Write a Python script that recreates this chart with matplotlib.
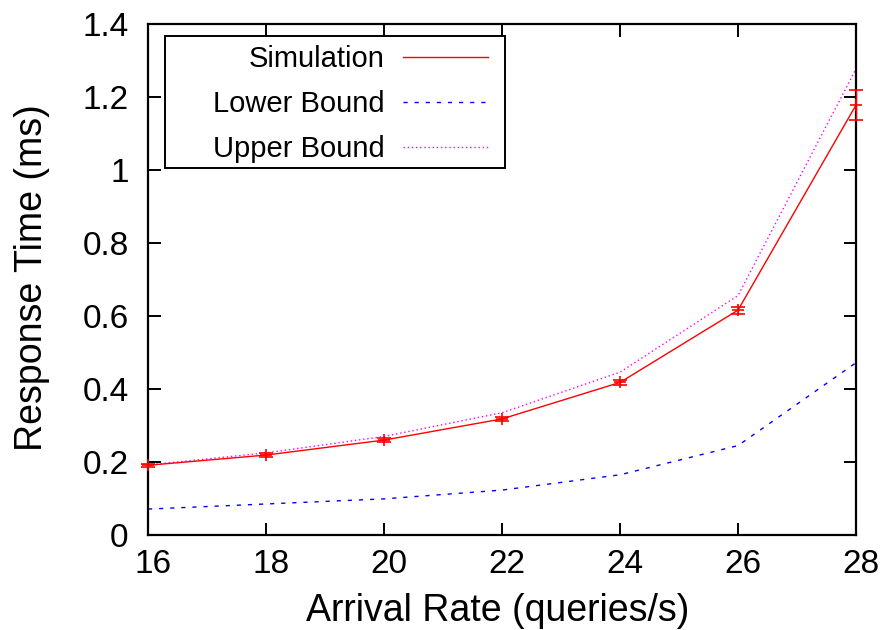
import numpy as np
import matplotlib
matplotlib.use('Agg')
import matplotlib.pyplot as plt
import matplotlib.transforms as mtransforms
from matplotlib.lines import Line2D
from matplotlib.patches import Rectangle

plt.rcParams['font.family'] = ['Liberation Sans', 'DejaVu Sans']

rate = [16, 18, 20, 22, 24, 26, 28]
sim = [0.191, 0.219, 0.260, 0.318, 0.418, 0.616, 1.178]
sim_err = [0.004, 0.005, 0.005, 0.006, 0.007, 0.010, 0.042]
lower = [0.071, 0.085, 0.099, 0.123, 0.165, 0.245, 0.472]
upper = [0.192, 0.225, 0.270, 0.335, 0.446, 0.656, 1.277]
labels = ['Simulation', 'Lower Bound', 'Upper Bound']

W, H = 886, 630
fig = plt.figure(figsize=(W / 100, H / 100), dpi=100)
ax = fig.add_axes([148 / W, 95 / H, 708 / W, 511 / H])

ax.errorbar(rate, sim, yerr=sim_err, color='red', lw=1.0, marker='+', ms=9,
            mew=1.2, capsize=5, elinewidth=1.0, capthick=1.2, clip_on=False, zorder=3)
ax.plot(rate, lower, color='blue', lw=1.0, ls=(0, (3, 5)))
ax.plot(rate, upper, color='magenta', lw=1.0, ls=(0, (1, 2)))

ax.set_xlim(16, 28)
ax.set_ylim(0, 1.4)
ax.set_xticks(rate)
ax.set_yticks([0, 0.2, 0.4, 0.6, 0.8, 1, 1.2, 1.4])
ax.set_yticklabels(['0', '0.2', '0.4', '0.6', '0.8', '1', '1.2', '1.4'])
ax.tick_params(direction='in', length=9, width=1.4, top=True, right=True,
               labelsize=24)
ax.tick_params(axis='x', pad=10)
ax.tick_params(axis='y', pad=14)
for s in ax.spines.values():
    s.set_linewidth(1.6)

# gnuplot puts x tick labels a bit right of the tick
off = mtransforms.ScaledTranslation(5 / 100, 0, fig.dpi_scale_trans)
for lab in ax.get_xticklabels():
    lab.set_transform(lab.get_transform() + off)

ax.set_xlabel('Arrival Rate (queries/s)', fontsize=27)
ax.xaxis.label.set_va('baseline')
ax.xaxis.set_label_coords((498 - 148) / 708, (535 - 621) / 511)
ax.set_ylabel('Response Time (ms)', fontsize=27)
ax.yaxis.label.set_va('center')
ax.yaxis.set_label_coords((32 - 148) / 708, (535 - 278) / 511)

handles = [Line2D([], [], color='red', lw=1.0),
           Line2D([], [], color='blue', lw=1.0, ls=(0, (3, 5))),
           Line2D([], [], color='magenta', lw=1.0, ls=(0, (1, 2)))]
leg = fig.legend(handles, labels, loc='center right',
                 bbox_to_anchor=(488 / W, 1 - 104 / H), bbox_transform=fig.transFigure,
                 markerfirst=False, fontsize=21, frameon=False, borderaxespad=0,
                 handlelength=2.9, borderpad=0, labelspacing=0.58, handletextpad=0.65)
for t in leg.get_texts():
    t.set_ha('right')
    t.set_position((0, 0))

# legend frame like gnuplot's key box
fig.patches.append(Rectangle((165 / W, 1 - 168 / H), 340 / W, 132 / H,
                             transform=fig.transFigure, fill=False,
                             edgecolor='black', lw=1.4, zorder=5))

fig.savefig('out.png', dpi=100)
